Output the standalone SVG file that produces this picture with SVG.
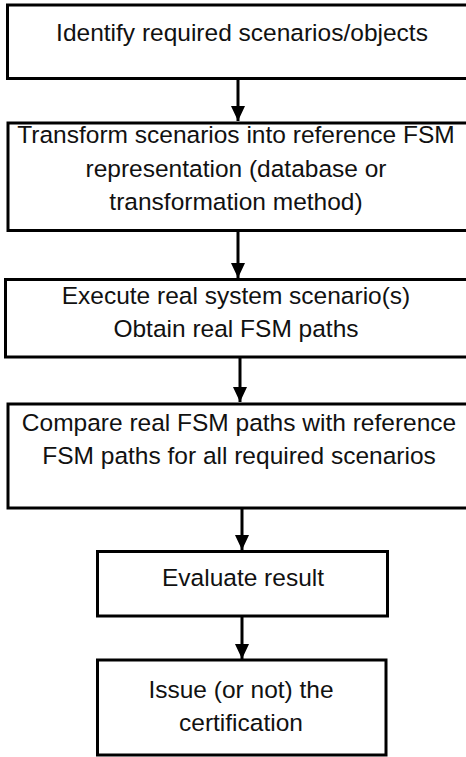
<svg xmlns="http://www.w3.org/2000/svg" width="466" height="757" viewBox="0 0 466 757">
  <style>
    .box { fill: #ffffff; stroke: #000000; stroke-width: 3; }
    .lbl { font-family: "Liberation Sans", Arial, sans-serif; font-size: 24.5px; fill: #111111; text-anchor: middle; }
    .flow { stroke: #000000; stroke-width: 3; fill: none; marker-end: url(#head); }
  </style>
  <defs>
    <marker id="head" markerUnits="userSpaceOnUse" markerWidth="16" markerHeight="16" viewBox="0 0 16 16" refX="15" refY="8" orient="auto">
      <path d="M0,1 L15,8 L0,15 Z" fill="#000000"/>
    </marker>
  </defs>
  <rect width="466" height="757" fill="#ffffff"/>

  <g id="connectors">
    <line class="flow" x1="238" y1="78" x2="238" y2="121"/>
    <line class="flow" x1="238" y1="231" x2="238" y2="278"/>
    <line class="flow" x1="240" y1="357" x2="240" y2="402"/>
    <line class="flow" x1="242" y1="508" x2="242" y2="550"/>
    <line class="flow" x1="242" y1="616" x2="242" y2="659"/>
  </g>

  <g id="identify">
    <rect class="box" x="7.5" y="5" width="470" height="73.5"/>
    <text class="lbl" x="242" y="41">Identify required scenarios/objects</text>
  </g>

  <g id="transform">
    <rect class="box" x="8" y="123" width="470" height="107.5"/>
    <text class="lbl" x="236" y="143">Transform scenarios into reference FSM</text>
    <text class="lbl" x="236" y="177">representation (database or</text>
    <text class="lbl" x="236" y="210">transformation method)</text>
  </g>

  <g id="execute">
    <rect class="box" x="5.5" y="279.5" width="470" height="77.5"/>
    <text class="lbl" x="236" y="304">Execute real system scenario(s)</text>
    <text class="lbl" x="236" y="337">Obtain real FSM paths</text>
  </g>

  <g id="compare">
    <rect class="box" x="8" y="404" width="470" height="104"/>
    <text class="lbl" x="239" y="431">Compare real FSM paths with reference</text>
    <text class="lbl" x="239" y="464">FSM paths for all required scenarios</text>
  </g>

  <g id="evaluate">
    <rect class="box" x="97.5" y="551.5" width="290" height="64.5"/>
    <text class="lbl" x="243" y="586">Evaluate result</text>
  </g>

  <g id="issue">
    <rect class="box" x="97.5" y="660" width="288.5" height="95"/>
    <text class="lbl" x="241" y="698">Issue (or not) the</text>
    <text class="lbl" x="241" y="731">certification</text>
  </g>
</svg>
